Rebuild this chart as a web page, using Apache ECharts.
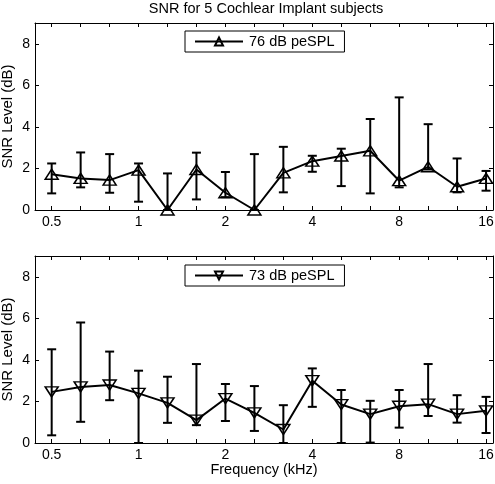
<!DOCTYPE html>
<html><head><meta charset="utf-8">
<script src="https://cdn.jsdelivr.net/npm/echarts@6/dist/echarts.min.js"></script>
<style>html,body{margin:0;padding:0;background:#fff}#c{width:495px;height:484px}</style>
</head><body><div id="c"></div>
<script>
// Frequencies (kHz), 1/3-octave centres
const freqs = [0.5, 0.63, 0.794, 1, 1.26, 1.587, 2, 2.52, 3.175, 4, 5.04, 6.35, 8, 10.08, 12.7, 16];
const labelFreqs = [0.5, 1, 2, 4, 8, 16];
const yTicks = [0, 2, 4, 6, 8];

const titleText = 'SNR for 5 Cochlear Implant subjects';
const yName = 'SNR Level (dB)';
const xName = 'Frequency (kHz)';

// Top panel: 76 dB peSPL
const topName = '76 dB peSPL';
const topMean = [1.72, 1.52, 1.44, 1.92, 0.0, 1.95, 0.83, 0.0, 1.79, 2.35, 2.6, 2.85, 1.41, 2.08, 1.12, 1.52];
const topLow  = [0.8, 1.09, 0.83, 0.4, 0.0, 0.51, 0.62, 0.0, 0.85, 1.84, 1.15, 0.8, 1.09, 1.95, 0.85, 0.93];
const topHigh = [2.24, 2.77, 2.69, 2.24, 1.76, 2.76, 1.83, 2.69, 3.04, 2.61, 2.95, 4.38, 5.42, 4.13, 2.48, 1.88];

// Bottom panel: 73 dB peSPL
const botName = '73 dB peSPL';
const botMean = [2.46, 2.7, 2.79, 2.39, 1.93, 1.1, 2.14, 1.45, 0.65, 3.0, 1.85, 1.39, 1.77, 1.87, 1.39, 1.55];
const botLow  = [0.37, 1.02, 2.06, 0.0, 0.97, 0.86, 1.06, 0.58, 0.0, 1.74, 0.0, 0.02, 0.74, 1.3, 0.98, 0.48];
const botHigh = [4.51, 5.8, 4.4, 3.48, 3.19, 3.8, 2.84, 2.74, 1.82, 3.59, 2.55, 2.03, 2.55, 3.8, 2.3, 2.22];

const lx = f => Math.log2(f);
const tickPos = freqs.map(lx);
const labelPos = labelFreqs.map(lx);
const XMIN = -1.192, XMAX = 4.08;
const FONT = 'Liberation Sans, Arial, Helvetica, sans-serif';
const FS = 14.5, TFS = 14;

function xAx(gi, pos, showLabel, withName) {
  return {
    type: 'value', gridIndex: gi, position: pos, min: XMIN, max: XMAX,
    axisLine: {show: true, onZero: false, lineStyle: {color: '#000', width: 1}},
    axisTick: {show: true, inside: true, length: 4, customValues: tickPos, lineStyle: {color: '#000'}},
    axisLabel: {show: showLabel, customValues: labelPos, margin: 5, fontSize: TFS, color: '#000', fontFamily: FONT,
      formatter: v => String(Math.round(Math.pow(2, v) * 100) / 100)},
    splitLine: {show: false},
    name: withName ? xName : '', nameLocation: 'middle', nameGap: 19, nameMoveOverlap: false,
    nameTextStyle: {fontSize: FS, color: '#000', fontFamily: FONT}
  };
}
function yAx(gi, pos, showLabel) {
  return {
    type: 'value', gridIndex: gi, position: pos, min: 0, max: 9,
    axisLine: {show: true, onZero: false, lineStyle: {color: '#000', width: 1}},
    axisTick: {show: true, inside: true, length: 4, customValues: yTicks, lineStyle: {color: '#000'}},
    axisLabel: {show: showLabel, customValues: yTicks, margin: 5, fontSize: TFS, color: '#000', fontFamily: FONT},
    splitLine: {show: false},
    name: showLabel ? yName : '', nameLocation: 'middle', nameGap: 20, nameMoveOverlap: false,
    nameTextStyle: {fontSize: 15, color: '#000', fontFamily: FONT}
  };
}

function errRender(params, api) {
  const x = api.value(0), lo = api.value(1), hi = api.value(2);
  const a = api.coord([x, lo]), b = api.coord([x, hi]);
  const w = 4.5;
  const st = {stroke: '#000', lineWidth: 2};
  return {type: 'group', children: [
    {type: 'line', shape: {x1: a[0], y1: a[1], x2: b[0], y2: b[1]}, style: st},
    {type: 'line', shape: {x1: a[0] - w, y1: a[1], x2: a[0] + w, y2: a[1]}, style: st},
    {type: 'line', shape: {x1: b[0] - w, y1: b[1], x2: b[0] + w, y2: b[1]}, style: st}
  ]};
}

function lineSeries(name, mean, xi, yi, rot) {
  return {
    type: 'line', name: name, xAxisIndex: xi, yAxisIndex: yi, clip: false,
    data: freqs.map((f, i) => [lx(f), mean[i]]),
    color: '#000',
    symbol: 'triangle', symbolSize: [13, 10], symbolRotate: rot, showAllSymbol: true,
    lineStyle: {color: '#000', width: 2},
    itemStyle: {color: 'rgba(255,255,255,0)', borderColor: '#000', borderWidth: 1.5},
    z: 3
  };
}
function errSeries(lo, hi, xi, yi) {
  return {
    type: 'custom', xAxisIndex: xi, yAxisIndex: yi, clip: false,
    data: freqs.map((f, i) => [lx(f), lo[i], hi[i]]),
    encode: {x: 0, y: [1, 2]},
    renderItem: errRender, z: 2, silent: true
  };
}

function legendFor(name, top) {
  return {
    data: [name], left: 185, top: top, orient: 'horizontal',
    padding: [3, 10, 3, 9], itemWidth: 48, itemHeight: 10, itemGap: 5,
    borderColor: '#000', borderWidth: 1, backgroundColor: '#fff',
    textStyle: {fontSize: FS, color: '#000', fontFamily: FONT, padding: [0, 0, 0, 1]},
    selectedMode: false
  };
}

const chart = echarts.init(document.getElementById('c'), null, {renderer: 'canvas'});
chart.setOption({
  animation: false,
  backgroundColor: '#fff',
  title: {text: titleText, left: 261, textAlign: 'center', top: 0, padding: [1, 5],
    textStyle: {fontSize: FS, fontWeight: 'normal', color: '#000', fontFamily: FONT}},
  grid: [
    {left: 35, top: 23, width: 458, height: 187, containLabel: false, outerBoundsMode: 'none'},
    {left: 35, top: 256, width: 458, height: 187, containLabel: false, outerBoundsMode: 'none'}
  ],
  xAxis: [xAx(0, 'bottom', true, false), xAx(0, 'top', false, false),
          xAx(1, 'bottom', true, true), xAx(1, 'top', false, false)],
  yAxis: [yAx(0, 'left', true), yAx(0, 'right', false),
          yAx(1, 'left', true), yAx(1, 'right', false)],
  legend: [legendFor(topName, 31), legendFor(botName, 265)],
  series: [
    errSeries(topLow, topHigh, 0, 0),
    lineSeries(topName, topMean, 0, 0, 0),
    errSeries(botLow, botHigh, 2, 2),
    lineSeries(botName, botMean, 2, 2, 180)
  ]
});
</script>
</body></html>
